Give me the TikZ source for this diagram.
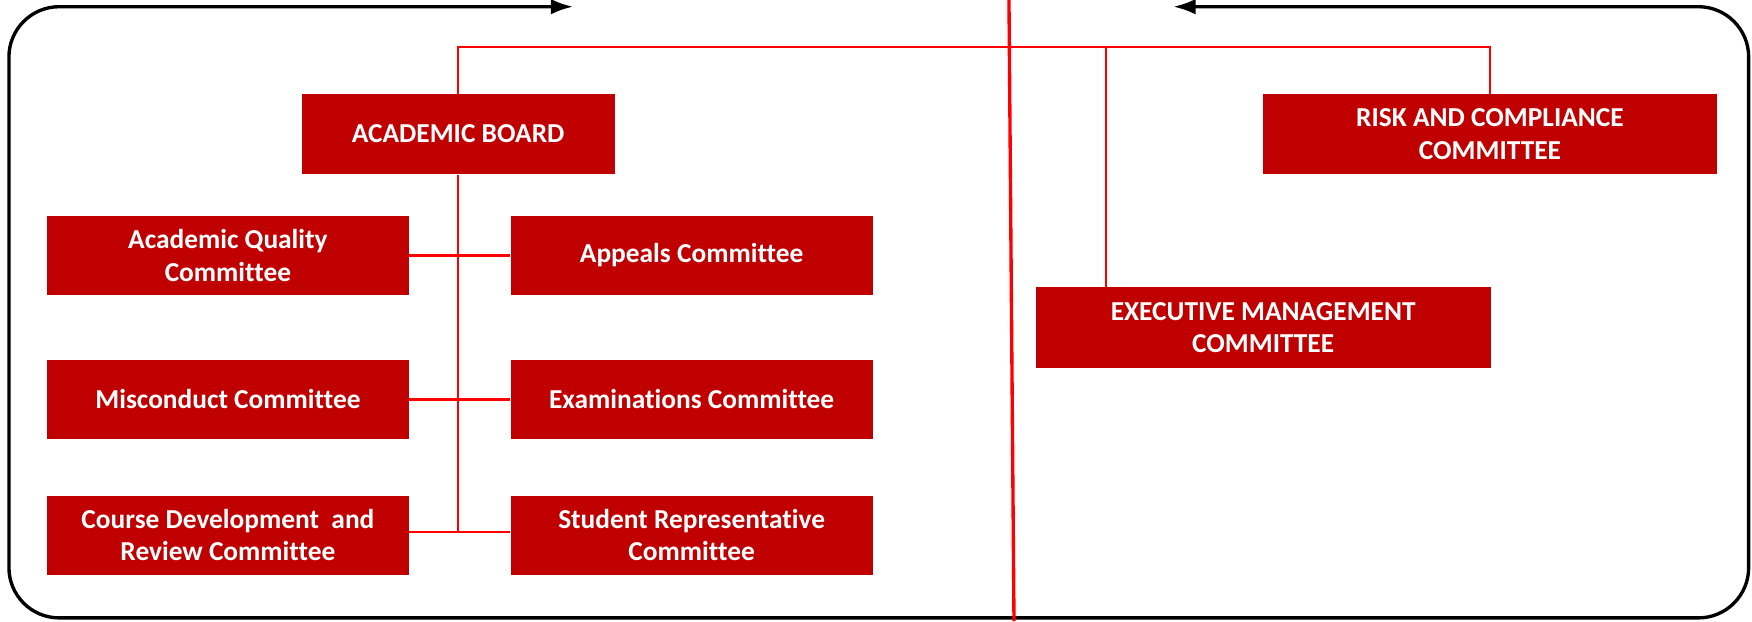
\documentclass[tikz,border=0pt]{standalone}
\usepackage{fontspec}
\setmainfont[Ligatures=NoCommon]{Carlito}
\usetikzlibrary{arrows.meta}
\usetikzlibrary{positioning}
\definecolor{boxred}{HTML}{C00000}
\definecolor{linkred}{HTML}{FF0000}
\tikzset{
	committee/.style={rectangle, fill=boxred, text=white, align=center, inner sep=0pt,
		font=\bfseries\fontsize{24.5}{29}\selectfont, minimum width=324pt, minimum height=71pt},
	board/.style={committee, minimum width=407pt, minimum height=72pt},
	link/.style={draw=linkred, line width=1.6pt},
	branch/.style={draw=linkred, line width=2.4pt},
	divider/.style={draw=linkred, line width=3pt},
	frame/.style={draw, line width=3pt, rounded corners=45pt,
		{Latex[length=20pt,width=14pt]}-{Latex[length=20pt,width=14pt]}}
}

\begin{document}
\begin{tikzpicture}[x=1pt, y=-1pt]
\useasboundingbox (0,0) rectangle (1568,556);

\node[board, minimum width=280pt] (acboard) at (410,120) {ACADEMIC BOARD};
\node[board] (riskcomp) at (1333.5,120) {RISK AND COMPLIANCE\\COMMITTEE};
\node[board] (execmgmt) at (1130.5,293) {EXECUTIVE MANAGEMENT\\COMMITTEE};

\node[committee] (quality) at (204,228.5) {Academic Quality\\Committee};
\node[committee] (appeals) at (619,228.5) {Appeals Committee};
\node[committee] (misconduct) at (204,357.5) {Misconduct Committee};
\node[committee] (exams) at (619,357.5) {Examinations Committee};
\node[committee] (coursedev) at (204,479) {Course Development~ and\\Review Committee};
\node[committee] (studentrep) at (619,479) {Student Representative\\Committee};

\coordinate (bus) at (900,42);
\coordinate (emctap) at (990,42);
\coordinate (spineend) at (410,476);
\coordinate (tipleft) at (513,6);
\coordinate (tipright) at (1050,6);
\coordinate (divtop) at (903,0);
\coordinate (divbottom) at (907.5,556);

\draw [frame] (tipright) -- (1565,6) -- (1565,553) -- (8,553) -- (8,6) -- (tipleft);

\draw [link] (acboard.north) |- (bus) -| (riskcomp.north);
\draw [link] (emctap) -- (emctap |- execmgmt.north);
\draw [link] (acboard.south) -- (spineend);

\draw [branch] (quality.east) -- (appeals.west);
\draw [branch] (misconduct.east) -- (exams.west);
\draw [branch] (coursedev.east |- spineend) -- (studentrep.west |- spineend);

\draw [divider] (divtop) -- (divbottom);

\end{tikzpicture}
\end{document}
